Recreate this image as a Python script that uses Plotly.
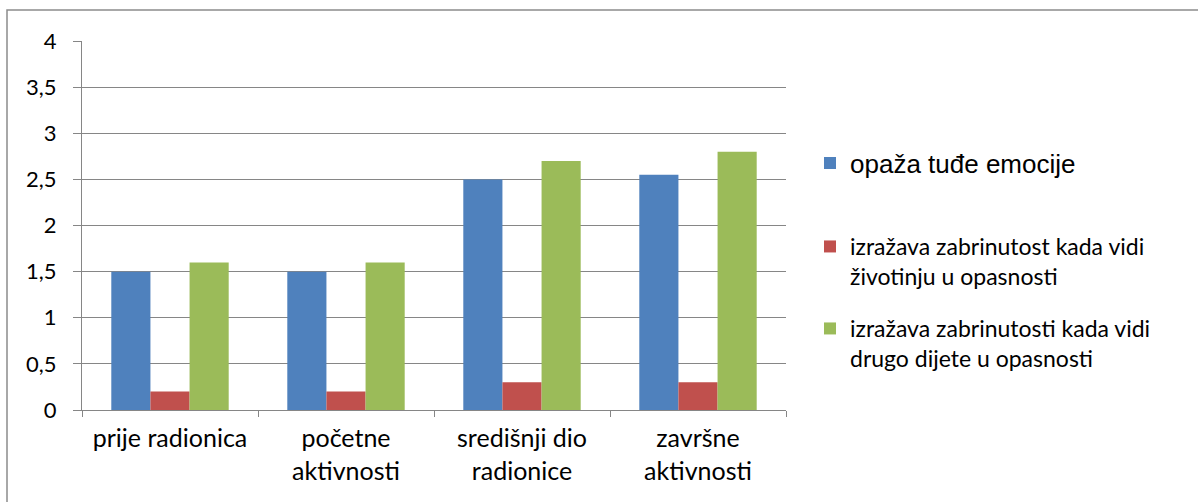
import plotly.graph_objects as go

categories = ["prije radionica", "početne<br>aktivnosti", "središnji dio<br>radionice", "završne<br>aktivnosti"]
series_names = [
    "opaža tuđe emocije",
    "izražava zabrinutost kada vidi<br>životinju u opasnosti",
    "izražava zabrinutosti kada vidi<br>drugo dijete u opasnosti",
]
blue_vals = [1.5, 1.5, 2.5, 2.55]
red_vals = [0.2, 0.2, 0.3, 0.3]
green_vals = [1.6, 1.6, 2.7, 2.8]
colors = ["#4F81BD", "#C0504D", "#9BBB59"]

fig = go.Figure()
for name, vals, col, lg in zip(series_names, [blue_vals, red_vals, green_vals], colors,
                               ["legend", "legend2", "legend3"]):
    fig.add_trace(go.Bar(x=categories, y=vals, name=name, marker_color=col,
                         marker_line_width=0, legend=lg))

W, H = 1198, 502
L, R, T, B = 82, 412, 41, 92
pw, ph = W - L - R, H - T - B

def px(x):
    return (x - L) / pw

def py(y):
    return (H - B - y) / ph

CAL = "Lato, Carlito, sans-serif"
fig.update_layout(
    width=W, height=H,
    margin=dict(l=L, r=R, t=T, b=B, autoexpand=False),
    paper_bgcolor="white", plot_bgcolor="white",
    separators=",.",
    barmode="group", bargap=0.333, bargroupgap=0,
    font=dict(family=CAL, size=22, color="#000000"),
    legend=dict(x=px(810), y=py(163), xanchor="left", yanchor="middle",
                font=dict(family="Liberation Sans, Arial, sans-serif", size=26),
                bgcolor="rgba(0,0,0,0)"),
    legend2=dict(x=px(810), y=py(225), xanchor="left", yanchor="top", valign="top",
                 font=dict(family=CAL, size=23),
                 bgcolor="rgba(0,0,0,0)"),
    legend3=dict(x=px(810), y=py(307), xanchor="left", yanchor="top", valign="top",
                 font=dict(family=CAL, size=23),
                 bgcolor="rgba(0,0,0,0)"),
    showlegend=True,
    xaxis=dict(showline=True, linecolor="#868686", linewidth=1,
               ticks="outside", tickson="boundaries", ticklen=6, tickcolor="#868686",
               ticklabelstandoff=6,
               showgrid=False, tickfont=dict(family=CAL, size=25)),
    yaxis=dict(range=[0, 4], dtick=0.5, showline=True, linecolor="#868686", linewidth=1,
               ticks="outside", ticklen=8, tickcolor="#868686",
               ticklabelstandoff=12,
               showgrid=True, gridcolor="#868686", gridwidth=1,
               zeroline=False, tickfont=dict(family=CAL, size=22)),
    shapes=[dict(type="rect", xref="paper", yref="paper",
                 x0=px(7), x1=px(1205), y0=py(510), y1=py(10),
                 line=dict(color="#8C8C8C", width=1.5), fillcolor="rgba(0,0,0,0)",
                 layer="below")],
)

fig.write_html("out.html", config={"displayModeBar": False},
               post_script="document.body.style.margin='0px';document.body.style.overflow='hidden';")
